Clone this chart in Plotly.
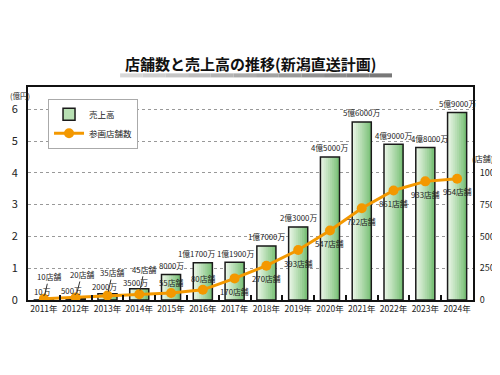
import plotly.graph_objects as go

years = ["2011年", "2012年", "2013年", "2014年", "2015年", "2016年", "2017年",
         "2018年", "2019年", "2020年", "2021年", "2022年", "2023年", "2024年"]
sales = [0.001, 0.05, 0.2, 0.35, 0.8, 1.17, 1.19, 1.7, 2.3, 4.5, 5.6, 4.9, 4.8, 5.9]
sales_labels = ["10万", "500万", "2000万", "3500万", "8000万", "1億1700万", "1億1900万",
                "1億7000万", "2億3000万", "4億5000万", "5億6000万", "4億9000万",
                "4億8000万", "5億9000万"]
stores = [10, 20, 35, 45, 55, 80, 170, 270, 393, 547, 722, 861, 933, 954]
store_labels = [f"{s}店舗" for s in stores]
left_ticks = [0, 1, 2, 3, 4, 5, 6]
right_ticks = [0, 250, 500, 750, 1000]

FONT = "Noto Sans CJK JP"
ORANGE = "#f39800"
LAB = dict(family=FONT, size=7.8, color="#222")

fig = go.Figure()

# legend dummy for bars
fig.add_trace(go.Bar(x=[None], y=[None], name="売上高",
                     marker=dict(color="#b8e0b3", line=dict(color="#1a1a1a", width=1.5))))

# gradient bars (stepped)
n = 10
W = 0.6
c0 = (232, 245, 229)
c1 = (124, 194, 122)
for k in range(n):
    t = k / (n - 1)
    col = "rgb(%d,%d,%d)" % tuple(int(c0[i] + (c1[i] - c0[i]) * t) for i in range(3))
    fig.add_trace(go.Bar(x=years, y=sales, offset=-W / 2 + k * W / n, width=W - k * W / n,
                         marker=dict(color=col, line=dict(width=0)),
                         showlegend=False, hoverinfo="skip"))
# outline
fig.add_trace(go.Bar(x=years, y=sales, offset=-W / 2, width=W,
                     marker=dict(color="rgba(0,0,0,0)", line=dict(color="#1a1a1a", width=1.5)),
                     showlegend=False, hoverinfo="skip"))

fig.add_trace(go.Scatter(x=years, y=stores, yaxis="y2", name="参画店舗数",
                         mode="lines+markers",
                         line=dict(color=ORANGE, width=3),
                         marker=dict(color=ORANGE, size=10)))

annotations = []
sales_xshift = [-1, -4, -3, -4, 0, -6, 1, 0, 0, 0, 0, 0, 4, 0]
sales_yshift = [8, 8, 7, 6] + [9] * 10
for i, (yr, v, lab) in enumerate(zip(years, sales, sales_labels)):
    annotations.append(dict(x=yr, y=v, text=lab, showarrow=False, yshift=sales_yshift[i],
                            xshift=sales_xshift[i], font=LAB))

leader = {0: (5, -22), 1: (6, -23), 2: (5, -23), 3: (5, -25)}
for i, (yr, s, lab) in enumerate(zip(years, stores, store_labels)):
    if i in leader:
        ax, ay = leader[i]
        annotations.append(dict(x=yr, y=s, yref="y2", text=lab, showarrow=True,
                                ax=ax, ay=ay, arrowhead=0, arrowwidth=1,
                                arrowcolor="#333", standoff=4, font=LAB))
    else:
        ys = 11 if i in (4, 5) else -13
        annotations.append(dict(x=yr, y=s, yref="y2", text=lab, showarrow=False,
                                yshift=ys, font=LAB))

annotations += [
    dict(xref="paper", yref="paper", x=-0.017, y=0.962, xanchor="center", yanchor="middle",
         text="(億円)", showarrow=False, font=dict(family=FONT, size=7.5, color="#222")),
    dict(xref="paper", yref="paper", x=1.021, y=0.662, xanchor="center", yanchor="middle",
         text="(店舗)", showarrow=False, font=dict(family=FONT, size=8, color="#222")),
    dict(xref="paper", yref="paper", x=0.5, y=1.11, xanchor="center", yanchor="middle",
         text="<b>店舗数と売上高の推移(新潟直送計画)</b>",
         showarrow=False, font=dict(family=FONT, size=15, color="#111")),
]

shapes = []
segs = 12
x0, x1 = 0.207, 0.818
for k in range(segs):
    g = int(215 - 95 * k / (segs - 1))
    shapes.append(dict(type="rect", xref="paper", yref="paper",
                       x0=x0 + (x1 - x0) * k / segs, x1=x0 + (x1 - x0) * (k + 1) / segs,
                       y0=1.045, y1=1.064, line=dict(width=0),
                       fillcolor="rgb(%d,%d,%d)" % (g, g, g), layer="below"))

fig.update_layout(
    width=492, height=367,
    margin=dict(l=20, r=27, t=79, b=75, autoexpand=False),
    paper_bgcolor="white", plot_bgcolor="white",
    barmode="overlay", bargap=0.4,
    font=dict(family=FONT, size=10, color="#222"),
    showlegend=True,
    legend=dict(x=0.045, y=0.945, xanchor="left", yanchor="top",
                bgcolor="white", bordercolor="#aaa", borderwidth=1,
                font=dict(family=FONT, size=8.5, color="#222"),
                traceorder="normal", itemwidth=30, tracegroupgap=0),
    xaxis=dict(type="category", range=[-0.5, 13.5], showline=True, linecolor="#111",
               linewidth=2, mirror=True, ticks="inside", tickson="boundaries",
               ticklen=5, tickwidth=1.5, tickcolor="#111", showgrid=False,
               tickangle=0, automargin=False,
               tickfont=dict(family=FONT, size=8.5, color="#222")),
    yaxis=dict(range=[0, 6.7], tickvals=left_ticks, showline=True, linecolor="#111",
               linewidth=2, showgrid=True, gridcolor="#999", griddash="dot", gridwidth=1,
               zeroline=False, ticks="", ticklabelstandoff=6, automargin=False,
               tickfont=dict(family=FONT, size=11, color="#222")),
    yaxis2=dict(range=[0, 1675], tickvals=right_ticks, overlaying="y", side="right",
                showline=True, linecolor="#111", linewidth=2, showgrid=False,
                zeroline=False, ticks="", ticklabelstandoff=3, automargin=False,
                tickfont=dict(family=FONT, size=9, color="#222")),
    annotations=annotations,
    shapes=shapes,
)

fig.write_html("out.html")
